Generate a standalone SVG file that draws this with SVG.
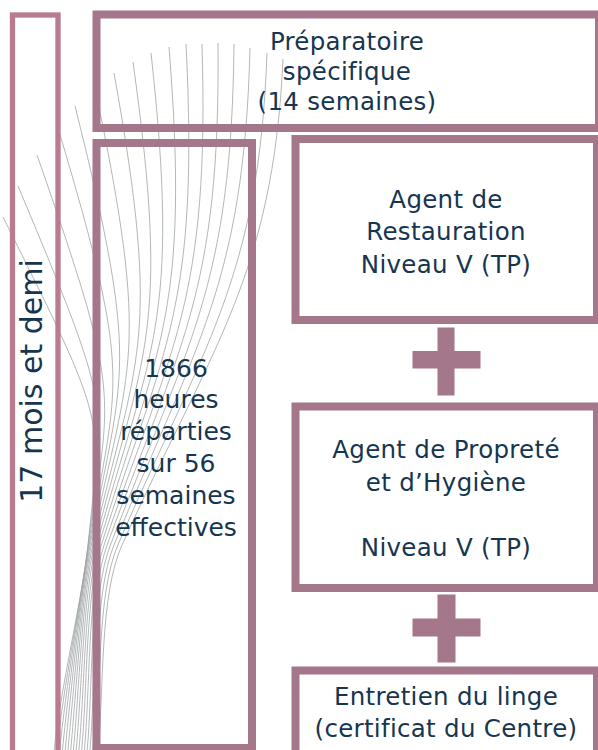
<svg xmlns="http://www.w3.org/2000/svg" width="598" height="750" viewBox="0 0 598 750">
<style>
.bg{fill:#ffffff}
.wisp{fill:none;stroke:#9ea4a6;stroke-width:0.8}
.box{fill:none;stroke:#a4778b;stroke-width:8}
.lbox{fill:none;stroke:#b97b8f;stroke-width:5.3}
.plus{fill:#a4778b}
.t{font-family:"DejaVu Sans","Liberation Sans",sans-serif;fill:#163650;text-anchor:middle}
.t24{font-size:24.5px;letter-spacing:0.3px}
.t25{font-size:25px}
</style>
<rect class="bg" x="0" y="0" width="598" height="750"/>
<g id="decor-lines">
<path class="wisp" d="M3,217 C109.6,430.2 101.1,413.8 88,545 C83,595 60,690 54,752"/>
<path class="wisp" d="M18,186 C114.1,414.9 105.6,401.4 88.1,545 C82,595 62.75,690 56.75,752"/>
<path class="wisp" d="M37,155 C122.3,398.8 111,389 88.5,545 C81.3,595 65.5,690 59.5,752"/>
<path class="wisp" d="M58,128 C134.6,383.4 116.9,378.2 89.2,545 C80.9,595 68.25,690 62.25,752"/>
<path class="wisp" d="M75,106 C140.9,369.4 123,369.4 90.1,545 C80.7,595 71,690 65,752"/>
<path class="wisp" d="M95,88 C151.4,356.5 129.5,362.2 91.3,545 C80.9,595 73.75,690 67.75,752"/>
<path class="wisp" d="M114,73 C162.9,344.4 136.4,356.2 92.8,545 C81.2,595 76.5,690 70.5,752"/>
<path class="wisp" d="M133,62 C171,333.7 143.4,351.8 94.5,545 C81.8,595 79.25,690 73.25,752"/>
<path class="wisp" d="M151,53 C180.8,323.6 150.6,348.2 96.5,545 C82.7,595 82,690 76,752"/>
<path class="wisp" d="M169,47 C190.4,314.7 158,345.8 98.8,545 C84,595 84.75,690 78.75,752"/>
<path class="wisp" d="M186,44 C199.2,307 165.2,344.6 101.3,545 C85.3,595 87.5,690 81.5,752"/>
<path class="wisp" d="M202,44 C209.7,300.8 172.4,344.6 104.1,545 C87.1,595 90.25,690 84.25,752"/>
<path class="wisp" d="M218,43 C220.5,294 179.9,344.2 107.1,545 C89,595 93,690 87,752"/>
<path class="wisp" d="M234,44 C231.6,288.2 187.4,344.6 110.4,545 C91.2,595 95.75,690 89.75,752"/>
<path class="wisp" d="M250,48 C244.1,284.1 194.7,346.2 114,545 C93.7,595 98.5,690 92.5,752"/>
<path class="wisp" d="M267,53 C259,280.6 202.1,348.2 117.9,545 C96.5,595 101.25,690 95.25,752"/>
<path class="wisp" d="M283,59 C273.2,277.7 209.5,350.6 122,545 C99.5,595 104,690 98,752"/>
</g>
<g id="duree">
<rect class="lbox" x="12.5" y="15" width="45.5" height="760"/>
<text class="t" font-size="30" transform="translate(42,381) rotate(-90)">17 mois et demi</text>
</g>
<g id="preparatoire">
<rect class="box" x="96.5" y="14.5" width="502.5" height="113.5"/>
<text class="t t24" x="347" y="50">Préparatoire</text>
<text class="t t24" x="347" y="80">spécifique</text>
<text class="t t24" x="347" y="110">(14 semaines)</text>
</g>
<g id="heures">
<rect class="box" x="96.5" y="143" width="155.5" height="605"/>
<text class="t t25" x="176" y="377">1866</text>
<text class="t t25" x="176" y="408">heures</text>
<text class="t t25" x="176" y="440">réparties</text>
<text class="t t25" x="176" y="472">sur 56</text>
<text class="t t25" x="176" y="504">semaines</text>
<text class="t t25" x="176" y="536">effectives</text>
</g>
<g id="restauration">
<rect class="box" x="295.5" y="139" width="301.5" height="181"/>
<text class="t t24" x="446" y="208">Agent de</text>
<text class="t t24" x="446" y="240">Restauration</text>
<text class="t t24" x="446" y="273">Niveau V (TP)</text>
</g>
<g id="plus1">
<rect class="plus" x="437.5" y="327.5" width="17" height="68"/>
<rect class="plus" x="412.5" y="351" width="68" height="17.5"/>
</g>
<g id="proprete">
<rect class="box" x="295.5" y="406.5" width="301.5" height="181.5"/>
<text class="t t24" x="446" y="458">Agent de Propreté</text>
<text class="t t24" x="446" y="491">et d’Hygiène</text>
<text class="t t24" x="446" y="556">Niveau V (TP)</text>
</g>
<g id="plus2">
<rect class="plus" x="437.5" y="594.5" width="18" height="68"/>
<rect class="plus" x="412.5" y="618.5" width="68" height="18"/>
</g>
<g id="linge">
<rect class="box" x="295.5" y="670.5" width="301.5" height="100"/>
<text class="t t24" x="446" y="705">Entretien du linge</text>
<text class="t t24" x="446" y="737">(certificat du Centre)</text>
</g>
</svg>
